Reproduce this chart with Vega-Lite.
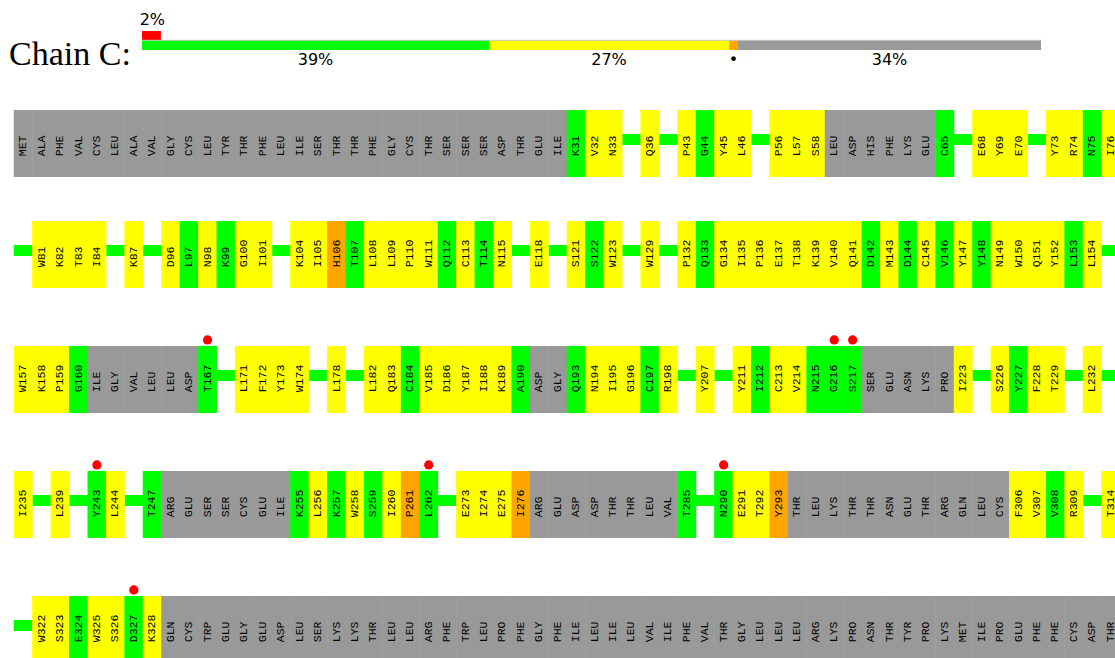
{
 "$schema": "https://vega.github.io/schema/vega-lite/v6.json",
 "padding": {"left": 9, "top": 10, "right": 0, "bottom": 0},
 "bounds": "flush",
 "spacing": 44,
 "background": "white",
 "config": {"view": {"stroke": null}},
 "resolve": {"scale": {"x": "independent", "y": "independent", "color": "independent"}},
 "datasets": {
  "res": [
   {"r":1,"s":0,"l":"MET","c":"x"},{"r":1,"s":1,"l":"ALA","c":"x"},{"r":1,"s":2,"l":"PHE","c":"x"},{"r":1,"s":3,"l":"VAL","c":"x"},{"r":1,"s":4,"l":"CYS","c":"x"},{"r":1,"s":5,"l":"LEU","c":"x"},{"r":1,"s":6,"l":"ALA","c":"x"},{"r":1,"s":7,"l":"VAL","c":"x"},{"r":1,"s":8,"l":"GLY","c":"x"},{"r":1,"s":9,"l":"CYS","c":"x"},
   {"r":1,"s":10,"l":"LEU","c":"x"},{"r":1,"s":11,"l":"TYR","c":"x"},{"r":1,"s":12,"l":"THR","c":"x"},{"r":1,"s":13,"l":"PHE","c":"x"},{"r":1,"s":14,"l":"LEU","c":"x"},{"r":1,"s":15,"l":"ILE","c":"x"},{"r":1,"s":16,"l":"SER","c":"x"},{"r":1,"s":17,"l":"THR","c":"x"},{"r":1,"s":18,"l":"THR","c":"x"},{"r":1,"s":19,"l":"PHE","c":"x"},
   {"r":1,"s":20,"l":"GLY","c":"x"},{"r":1,"s":21,"l":"CYS","c":"x"},{"r":1,"s":22,"l":"THR","c":"x"},{"r":1,"s":23,"l":"SER","c":"x"},{"r":1,"s":24,"l":"SER","c":"x"},{"r":1,"s":25,"l":"SER","c":"x"},{"r":1,"s":26,"l":"ASP","c":"x"},{"r":1,"s":27,"l":"THR","c":"x"},{"r":1,"s":28,"l":"GLU","c":"x"},{"r":1,"s":29,"l":"ILE","c":"x"},
   {"r":1,"s":30,"l":"K31","c":"g"},{"r":1,"s":31,"l":"V32","c":"y"},{"r":1,"s":32,"l":"N33","c":"y"},{"r":1,"s":33,"l":"","c":"gap"},{"r":1,"s":34,"l":"Q36","c":"y"},{"r":1,"s":35,"l":"","c":"gap"},{"r":1,"s":36,"l":"P43","c":"y"},{"r":1,"s":37,"l":"G44","c":"g"},{"r":1,"s":38,"l":"Y45","c":"y"},{"r":1,"s":39,"l":"L46","c":"y"},
   {"r":1,"s":40,"l":"","c":"gap"},{"r":1,"s":41,"l":"P56","c":"y"},{"r":1,"s":42,"l":"L57","c":"y"},{"r":1,"s":43,"l":"S58","c":"y"},{"r":1,"s":44,"l":"LEU","c":"x"},{"r":1,"s":45,"l":"ASP","c":"x"},{"r":1,"s":46,"l":"HIS","c":"x"},{"r":1,"s":47,"l":"PHE","c":"x"},{"r":1,"s":48,"l":"LYS","c":"x"},{"r":1,"s":49,"l":"GLU","c":"x"},
   {"r":1,"s":50,"l":"C65","c":"g"},{"r":1,"s":51,"l":"","c":"gap"},{"r":1,"s":52,"l":"E68","c":"y"},{"r":1,"s":53,"l":"Y69","c":"y"},{"r":1,"s":54,"l":"E70","c":"y"},{"r":1,"s":55,"l":"","c":"gap"},{"r":1,"s":56,"l":"Y73","c":"y"},{"r":1,"s":57,"l":"R74","c":"y"},{"r":1,"s":58,"l":"N75","c":"g"},{"r":1,"s":59,"l":"I76","c":"y"},

   {"r":2,"s":0,"l":"","c":"gap"},{"r":2,"s":1,"l":"W81","c":"y"},{"r":2,"s":2,"l":"K82","c":"y"},{"r":2,"s":3,"l":"T83","c":"y"},{"r":2,"s":4,"l":"I84","c":"y"},{"r":2,"s":5,"l":"","c":"gap"},{"r":2,"s":6,"l":"K87","c":"y"},{"r":2,"s":7,"l":"","c":"gap"},{"r":2,"s":8,"l":"D96","c":"y"},{"r":2,"s":9,"l":"L97","c":"g"},
   {"r":2,"s":10,"l":"N98","c":"y"},{"r":2,"s":11,"l":"K99","c":"g"},{"r":2,"s":12,"l":"G100","c":"y"},{"r":2,"s":13,"l":"I101","c":"y"},{"r":2,"s":14,"l":"","c":"gap"},{"r":2,"s":15,"l":"K104","c":"y"},{"r":2,"s":16,"l":"I105","c":"y"},{"r":2,"s":17,"l":"H106","c":"o"},{"r":2,"s":18,"l":"T107","c":"g"},{"r":2,"s":19,"l":"L108","c":"y"},
   {"r":2,"s":20,"l":"L109","c":"y"},{"r":2,"s":21,"l":"P110","c":"y"},{"r":2,"s":22,"l":"W111","c":"y"},{"r":2,"s":23,"l":"Q112","c":"g"},{"r":2,"s":24,"l":"C113","c":"y"},{"r":2,"s":25,"l":"T114","c":"g"},{"r":2,"s":26,"l":"N115","c":"y"},{"r":2,"s":27,"l":"","c":"gap"},{"r":2,"s":28,"l":"E118","c":"y"},{"r":2,"s":29,"l":"","c":"gap"},
   {"r":2,"s":30,"l":"S121","c":"y"},{"r":2,"s":31,"l":"S122","c":"g"},{"r":2,"s":32,"l":"W123","c":"y"},{"r":2,"s":33,"l":"","c":"gap"},{"r":2,"s":34,"l":"W129","c":"y"},{"r":2,"s":35,"l":"","c":"gap"},{"r":2,"s":36,"l":"P132","c":"y"},{"r":2,"s":37,"l":"Q133","c":"g"},{"r":2,"s":38,"l":"G134","c":"y"},{"r":2,"s":39,"l":"I135","c":"y"},
   {"r":2,"s":40,"l":"P136","c":"y"},{"r":2,"s":41,"l":"E137","c":"y"},{"r":2,"s":42,"l":"T138","c":"y"},{"r":2,"s":43,"l":"K139","c":"y"},{"r":2,"s":44,"l":"V140","c":"y"},{"r":2,"s":45,"l":"Q141","c":"y"},{"r":2,"s":46,"l":"D142","c":"g"},{"r":2,"s":47,"l":"M143","c":"y"},{"r":2,"s":48,"l":"D144","c":"g"},{"r":2,"s":49,"l":"C145","c":"y"},
   {"r":2,"s":50,"l":"V146","c":"g"},{"r":2,"s":51,"l":"Y147","c":"y"},{"r":2,"s":52,"l":"Y148","c":"g"},{"r":2,"s":53,"l":"N149","c":"y"},{"r":2,"s":54,"l":"W150","c":"y"},{"r":2,"s":55,"l":"Q151","c":"y"},{"r":2,"s":56,"l":"Y152","c":"y"},{"r":2,"s":57,"l":"L153","c":"g"},{"r":2,"s":58,"l":"L154","c":"y"},{"r":2,"s":59,"l":"","c":"gap"},

   {"r":3,"s":0,"l":"W157","c":"y"},{"r":3,"s":1,"l":"K158","c":"y"},{"r":3,"s":2,"l":"P159","c":"y"},{"r":3,"s":3,"l":"G160","c":"g"},{"r":3,"s":4,"l":"ILE","c":"x"},{"r":3,"s":5,"l":"GLY","c":"x"},{"r":3,"s":6,"l":"VAL","c":"x"},{"r":3,"s":7,"l":"LEU","c":"x"},{"r":3,"s":8,"l":"LEU","c":"x"},{"r":3,"s":9,"l":"ASP","c":"x"},
   {"r":3,"s":10,"l":"T167","c":"g","d":1},{"r":3,"s":11,"l":"","c":"gap"},{"r":3,"s":12,"l":"L171","c":"y"},{"r":3,"s":13,"l":"F172","c":"y"},{"r":3,"s":14,"l":"Y173","c":"y"},{"r":3,"s":15,"l":"W174","c":"y"},{"r":3,"s":16,"l":"","c":"gap"},{"r":3,"s":17,"l":"L178","c":"y"},{"r":3,"s":18,"l":"","c":"gap"},{"r":3,"s":19,"l":"L182","c":"y"},
   {"r":3,"s":20,"l":"Q183","c":"y"},{"r":3,"s":21,"l":"C184","c":"g"},{"r":3,"s":22,"l":"V185","c":"y"},{"r":3,"s":23,"l":"D186","c":"y"},{"r":3,"s":24,"l":"Y187","c":"y"},{"r":3,"s":25,"l":"I188","c":"y"},{"r":3,"s":26,"l":"K189","c":"y"},{"r":3,"s":27,"l":"A190","c":"g"},{"r":3,"s":28,"l":"ASP","c":"x"},{"r":3,"s":29,"l":"GLY","c":"x"},
   {"r":3,"s":30,"l":"Q193","c":"g"},{"r":3,"s":31,"l":"N194","c":"y"},{"r":3,"s":32,"l":"I195","c":"y"},{"r":3,"s":33,"l":"G196","c":"y"},{"r":3,"s":34,"l":"C197","c":"g"},{"r":3,"s":35,"l":"R198","c":"y"},{"r":3,"s":36,"l":"","c":"gap"},{"r":3,"s":37,"l":"Y207","c":"y"},{"r":3,"s":38,"l":"","c":"gap"},{"r":3,"s":39,"l":"Y211","c":"y"},
   {"r":3,"s":40,"l":"I212","c":"g"},{"r":3,"s":41,"l":"C213","c":"y"},{"r":3,"s":42,"l":"V214","c":"y"},{"r":3,"s":43,"l":"N215","c":"g"},{"r":3,"s":44,"l":"G216","c":"g","d":1},{"r":3,"s":45,"l":"S217","c":"g","d":1},{"r":3,"s":46,"l":"SER","c":"x"},{"r":3,"s":47,"l":"GLU","c":"x"},{"r":3,"s":48,"l":"ASN","c":"x"},{"r":3,"s":49,"l":"LYS","c":"x"},
   {"r":3,"s":50,"l":"PRO","c":"x"},{"r":3,"s":51,"l":"I223","c":"y"},{"r":3,"s":52,"l":"","c":"gap"},{"r":3,"s":53,"l":"S226","c":"y"},{"r":3,"s":54,"l":"Y227","c":"g"},{"r":3,"s":55,"l":"F228","c":"y"},{"r":3,"s":56,"l":"T229","c":"y"},{"r":3,"s":57,"l":"","c":"gap"},{"r":3,"s":58,"l":"L232","c":"y"},{"r":3,"s":59,"l":"","c":"gap"},

   {"r":4,"s":0,"l":"I235","c":"y"},{"r":4,"s":1,"l":"","c":"gap"},{"r":4,"s":2,"l":"L239","c":"y"},{"r":4,"s":3,"l":"","c":"gap"},{"r":4,"s":4,"l":"Y243","c":"g","d":1},{"r":4,"s":5,"l":"L244","c":"y"},{"r":4,"s":6,"l":"","c":"gap"},{"r":4,"s":7,"l":"T247","c":"g"},{"r":4,"s":8,"l":"ARG","c":"x"},{"r":4,"s":9,"l":"GLU","c":"x"},
   {"r":4,"s":10,"l":"SER","c":"x"},{"r":4,"s":11,"l":"SER","c":"x"},{"r":4,"s":12,"l":"CYS","c":"x"},{"r":4,"s":13,"l":"GLU","c":"x"},{"r":4,"s":14,"l":"ILE","c":"x"},{"r":4,"s":15,"l":"K255","c":"g"},{"r":4,"s":16,"l":"L256","c":"y"},{"r":4,"s":17,"l":"K257","c":"g"},{"r":4,"s":18,"l":"W258","c":"y"},{"r":4,"s":19,"l":"S259","c":"g"},
   {"r":4,"s":20,"l":"I260","c":"y"},{"r":4,"s":21,"l":"P261","c":"o"},{"r":4,"s":22,"l":"L262","c":"g","d":1},{"r":4,"s":23,"l":"","c":"gap"},{"r":4,"s":24,"l":"E273","c":"y"},{"r":4,"s":25,"l":"I274","c":"y"},{"r":4,"s":26,"l":"E275","c":"y"},{"r":4,"s":27,"l":"I276","c":"o"},{"r":4,"s":28,"l":"ARG","c":"x"},{"r":4,"s":29,"l":"GLU","c":"x"},
   {"r":4,"s":30,"l":"ASP","c":"x"},{"r":4,"s":31,"l":"ASP","c":"x"},{"r":4,"s":32,"l":"THR","c":"x"},{"r":4,"s":33,"l":"THR","c":"x"},{"r":4,"s":34,"l":"LEU","c":"x"},{"r":4,"s":35,"l":"VAL","c":"x"},{"r":4,"s":36,"l":"T285","c":"g"},{"r":4,"s":37,"l":"","c":"gap"},{"r":4,"s":38,"l":"N290","c":"g","d":1},{"r":4,"s":39,"l":"E291","c":"y"},
   {"r":4,"s":40,"l":"T292","c":"y"},{"r":4,"s":41,"l":"Y293","c":"o"},{"r":4,"s":42,"l":"THR","c":"x"},{"r":4,"s":43,"l":"LEU","c":"x"},{"r":4,"s":44,"l":"LYS","c":"x"},{"r":4,"s":45,"l":"THR","c":"x"},{"r":4,"s":46,"l":"THR","c":"x"},{"r":4,"s":47,"l":"ASN","c":"x"},{"r":4,"s":48,"l":"GLU","c":"x"},{"r":4,"s":49,"l":"THR","c":"x"},
   {"r":4,"s":50,"l":"ARG","c":"x"},{"r":4,"s":51,"l":"GLN","c":"x"},{"r":4,"s":52,"l":"LEU","c":"x"},{"r":4,"s":53,"l":"CYS","c":"x"},{"r":4,"s":54,"l":"F306","c":"y"},{"r":4,"s":55,"l":"V307","c":"y"},{"r":4,"s":56,"l":"V308","c":"g"},{"r":4,"s":57,"l":"R309","c":"y"},{"r":4,"s":58,"l":"","c":"gap"},{"r":4,"s":59,"l":"T314","c":"y"},

   {"r":5,"s":0,"l":"","c":"gap"},{"r":5,"s":1,"l":"W322","c":"y"},{"r":5,"s":2,"l":"S323","c":"y"},{"r":5,"s":3,"l":"E324","c":"g"},{"r":5,"s":4,"l":"W325","c":"y"},{"r":5,"s":5,"l":"S326","c":"y"},{"r":5,"s":6,"l":"D327","c":"g","d":1},{"r":5,"s":7,"l":"K328","c":"y"},{"r":5,"s":8,"l":"GLN","c":"x"},{"r":5,"s":9,"l":"CYS","c":"x"},
   {"r":5,"s":10,"l":"TRP","c":"x"},{"r":5,"s":11,"l":"GLU","c":"x"},{"r":5,"s":12,"l":"GLY","c":"x"},{"r":5,"s":13,"l":"GLU","c":"x"},{"r":5,"s":14,"l":"ASP","c":"x"},{"r":5,"s":15,"l":"LEU","c":"x"},{"r":5,"s":16,"l":"SER","c":"x"},{"r":5,"s":17,"l":"LYS","c":"x"},{"r":5,"s":18,"l":"LYS","c":"x"},{"r":5,"s":19,"l":"THR","c":"x"},
   {"r":5,"s":20,"l":"LEU","c":"x"},{"r":5,"s":21,"l":"LEU","c":"x"},{"r":5,"s":22,"l":"ARG","c":"x"},{"r":5,"s":23,"l":"PHE","c":"x"},{"r":5,"s":24,"l":"TRP","c":"x"},{"r":5,"s":25,"l":"LEU","c":"x"},{"r":5,"s":26,"l":"PRO","c":"x"},{"r":5,"s":27,"l":"PHE","c":"x"},{"r":5,"s":28,"l":"GLY","c":"x"},{"r":5,"s":29,"l":"PHE","c":"x"},
   {"r":5,"s":30,"l":"ILE","c":"x"},{"r":5,"s":31,"l":"LEU","c":"x"},{"r":5,"s":32,"l":"ILE","c":"x"},{"r":5,"s":33,"l":"LEU","c":"x"},{"r":5,"s":34,"l":"VAL","c":"x"},{"r":5,"s":35,"l":"ILE","c":"x"},{"r":5,"s":36,"l":"PHE","c":"x"},{"r":5,"s":37,"l":"VAL","c":"x"},{"r":5,"s":38,"l":"THR","c":"x"},{"r":5,"s":39,"l":"GLY","c":"x"},
   {"r":5,"s":40,"l":"LEU","c":"x"},{"r":5,"s":41,"l":"LEU","c":"x"},{"r":5,"s":42,"l":"LEU","c":"x"},{"r":5,"s":43,"l":"ARG","c":"x"},{"r":5,"s":44,"l":"LYS","c":"x"},{"r":5,"s":45,"l":"PRO","c":"x"},{"r":5,"s":46,"l":"ASN","c":"x"},{"r":5,"s":47,"l":"THR","c":"x"},{"r":5,"s":48,"l":"TYR","c":"x"},{"r":5,"s":49,"l":"PRO","c":"x"},
   {"r":5,"s":50,"l":"LYS","c":"x"},{"r":5,"s":51,"l":"MET","c":"x"},{"r":5,"s":52,"l":"ILE","c":"x"},{"r":5,"s":53,"l":"PRO","c":"x"},{"r":5,"s":54,"l":"GLU","c":"x"},{"r":5,"s":55,"l":"PHE","c":"x"},{"r":5,"s":56,"l":"PHE","c":"x"},{"r":5,"s":57,"l":"CYS","c":"x"},{"r":5,"s":58,"l":"ASP","c":"x"},{"r":5,"s":59,"l":"THR","c":"x"}
  ]
 },
 "vconcat": [
  {
   "width": 1106, "height": 56,
   "layer": [
    {
     "data": {"values": [{"t": "Chain C:", "m": -14.79}]},
     "mark": {"type": "text", "align": "left", "baseline": "alphabetic", "font": "Liberation Serif", "fontSize": 34, "color": "#000000"},
     "encoding": {
      "x": {"field": "m", "type": "quantitative", "scale": {"domain": [-14.794, 108.23], "nice": false, "zero": false}, "axis": null},
      "y": {"datum": 55, "type": "quantitative", "scale": {"domain": [0, 56], "reverse": true, "nice": false, "zero": false}, "axis": null},
      "text": {"field": "t"}
     }
    },
    {
     "data": {"values": [{"c": "g", "a": 0, "b": 38.6}, {"c": "y", "a": 38.6, "b": 65.3}, {"c": "o", "a": 65.3, "b": 66.3}, {"c": "x", "a": 66.3, "b": 100}]},
     "mark": {"type": "rect"},
     "encoding": {
      "x": {"field": "a", "type": "quantitative", "scale": {"domain": [-14.794, 108.23], "nice": false, "zero": false}, "axis": null},
      "x2": {"field": "b"},
      "y": {"datum": 30, "type": "quantitative", "scale": {"domain": [0, 56], "reverse": true, "nice": false, "zero": false}, "axis": null},
      "y2": {"datum": 40},
      "color": {"field": "c", "type": "nominal", "scale": {"domain": ["x", "g", "y", "o"], "range": ["#999999", "#00ff00", "#ffff00", "#ffa500"]}, "legend": null}
     }
    },
    {
     "data": {"values": [{"a": 0, "b": 2.1}]},
     "mark": {"type": "rect", "color": "#ff0000"},
     "encoding": {
      "x": {"field": "a", "type": "quantitative", "scale": {"domain": [-14.794, 108.23], "nice": false, "zero": false}, "axis": null},
      "x2": {"field": "b"},
      "y": {"datum": 21, "type": "quantitative", "scale": {"domain": [0, 56], "reverse": true, "nice": false, "zero": false}, "axis": null},
      "y2": {"datum": 30}
     }
    },
    {
     "data": {"values": [{"a": 0, "b": 100}]},
     "mark": {"type": "rule", "color": "#c8c8c8", "strokeWidth": 1},
     "encoding": {
      "x": {"field": "a", "type": "quantitative", "scale": {"domain": [-14.794, 108.23], "nice": false, "zero": false}, "axis": null},
      "x2": {"field": "b"},
      "y": {"datum": 30.3, "type": "quantitative", "scale": {"domain": [0, 56], "reverse": true, "nice": false, "zero": false}, "axis": null}
     }
    },
    {
     "data": {"values": [{"m": 19.3, "t": "39%"}, {"m": 51.95, "t": "27%"}, {"m": 65.8, "t": "•"}, {"m": 83.15, "t": "34%"}]},
     "mark": {"type": "text", "font": "DejaVu Sans", "fontSize": 16, "align": "center", "baseline": "middle", "color": "#000000"},
     "encoding": {
      "x": {"field": "m", "type": "quantitative", "scale": {"domain": [-14.794, 108.23], "nice": false, "zero": false}, "axis": null},
      "y": {"datum": 50, "type": "quantitative", "scale": {"domain": [0, 56], "reverse": true, "nice": false, "zero": false}, "axis": null},
      "text": {"field": "t"}
     }
    },
    {
     "data": {"values": [{"m": 1.15, "t": "2%"}]},
     "mark": {"type": "text", "font": "DejaVu Sans", "fontSize": 16, "align": "center", "baseline": "middle", "color": "#000000"},
     "encoding": {
      "x": {"field": "m", "type": "quantitative", "scale": {"domain": [-14.794, 108.23], "nice": false, "zero": false}, "axis": null},
      "y": {"datum": 10, "type": "quantitative", "scale": {"domain": [0, 56], "reverse": true, "nice": false, "zero": false}, "axis": null},
      "text": {"field": "t"}
     }
    }
   ]
  },
  {
   "width": 1106, "height": 67,
   "data": {"name": "res"},
   "transform": [{"filter": "datum.r == 1"}],
   "layer": [
    {"transform": [{"filter": "datum.c == 'gap'"}], "mark": {"type": "bar", "width": 18.9, "color": "#00ff00", "clip": true},
     "encoding": {"x": {"field": "s", "type": "quantitative", "scale": {"domain": [-0.5, 58.9624], "nice": false, "zero": false}, "axis": null},
      "y": {"datum": 0.478, "type": "quantitative", "scale": {"domain": [0, 1], "nice": false, "zero": false}, "axis": null}, "y2": {"datum": 0.642}}},
    {"transform": [{"filter": "datum.c != 'gap'"}], "mark": {"type": "bar", "width": 18.9, "clip": true},
     "encoding": {"x": {"field": "s", "type": "quantitative", "scale": {"domain": [-0.5, 58.9624], "nice": false, "zero": false}, "axis": null},
      "y": {"datum": 0, "type": "quantitative", "scale": {"domain": [0, 1], "nice": false, "zero": false}, "axis": null}, "y2": {"datum": 1},
      "color": {"field": "c", "type": "nominal", "scale": {"domain": ["x", "g", "y", "o"], "range": ["#999999", "#00ff00", "#ffff00", "#ffa500"]}, "legend": null}}},
    {"transform": [{"filter": "datum.c != 'gap'"}], "mark": {"type": "text", "angle": 270, "align": "left", "baseline": "middle", "font": "Liberation Mono", "fontSize": 11.5, "color": "#000000", "clip": true},
     "encoding": {"x": {"field": "s", "type": "quantitative", "scale": {"domain": [-0.5, 58.9624], "nice": false, "zero": false}, "axis": null},
      "y": {"datum": 0.31, "type": "quantitative", "scale": {"domain": [0, 1], "nice": false, "zero": false}, "axis": null}, "text": {"field": "l"}}},
    {"transform": [{"filter": "datum.d == 1"}], "mark": {"type": "circle", "size": 85, "color": "#ff0000", "opacity": 1},
     "encoding": {"x": {"field": "s", "type": "quantitative", "scale": {"domain": [-0.5, 58.9624], "nice": false, "zero": false}, "axis": null},
      "y": {"datum": 1.09, "type": "quantitative", "scale": {"domain": [0, 1], "nice": false, "zero": false}, "axis": null}}}
   ]
  },
  {
   "width": 1106, "height": 67,
   "data": {"name": "res"},
   "transform": [{"filter": "datum.r == 2"}],
   "layer": [
    {"transform": [{"filter": "datum.c == 'gap'"}], "mark": {"type": "bar", "width": 18.9, "color": "#00ff00", "clip": true},
     "encoding": {"x": {"field": "s", "type": "quantitative", "scale": {"domain": [-0.5, 58.9624], "nice": false, "zero": false}, "axis": null},
      "y": {"datum": 0.478, "type": "quantitative", "scale": {"domain": [0, 1], "nice": false, "zero": false}, "axis": null}, "y2": {"datum": 0.642}}},
    {"transform": [{"filter": "datum.c != 'gap'"}], "mark": {"type": "bar", "width": 18.9, "clip": true},
     "encoding": {"x": {"field": "s", "type": "quantitative", "scale": {"domain": [-0.5, 58.9624], "nice": false, "zero": false}, "axis": null},
      "y": {"datum": 0, "type": "quantitative", "scale": {"domain": [0, 1], "nice": false, "zero": false}, "axis": null}, "y2": {"datum": 1},
      "color": {"field": "c", "type": "nominal", "scale": {"domain": ["x", "g", "y", "o"], "range": ["#999999", "#00ff00", "#ffff00", "#ffa500"]}, "legend": null}}},
    {"transform": [{"filter": "datum.c != 'gap'"}], "mark": {"type": "text", "angle": 270, "align": "left", "baseline": "middle", "font": "Liberation Mono", "fontSize": 11.5, "color": "#000000", "clip": true},
     "encoding": {"x": {"field": "s", "type": "quantitative", "scale": {"domain": [-0.5, 58.9624], "nice": false, "zero": false}, "axis": null},
      "y": {"datum": 0.31, "type": "quantitative", "scale": {"domain": [0, 1], "nice": false, "zero": false}, "axis": null}, "text": {"field": "l"}}},
    {"transform": [{"filter": "datum.d == 1"}], "mark": {"type": "circle", "size": 85, "color": "#ff0000", "opacity": 1},
     "encoding": {"x": {"field": "s", "type": "quantitative", "scale": {"domain": [-0.5, 58.9624], "nice": false, "zero": false}, "axis": null},
      "y": {"datum": 1.09, "type": "quantitative", "scale": {"domain": [0, 1], "nice": false, "zero": false}, "axis": null}}}
   ]
  },
  {
   "width": 1106, "height": 81,
   "data": {"name": "res"},
   "transform": [{"filter": "datum.r == 3"}],
   "layer": [
    {"transform": [{"filter": "datum.c == 'gap'"}], "mark": {"type": "bar", "width": 18.9, "color": "#00ff00", "clip": true},
     "encoding": {"x": {"field": "s", "type": "quantitative", "scale": {"domain": [-0.5, 58.9624], "nice": false, "zero": false}, "axis": null},
      "y": {"datum": 0.478, "type": "quantitative", "scale": {"domain": [0, 1.209], "nice": false, "zero": false}, "axis": null}, "y2": {"datum": 0.642}}},
    {"transform": [{"filter": "datum.c != 'gap'"}], "mark": {"type": "bar", "width": 18.9, "clip": true},
     "encoding": {"x": {"field": "s", "type": "quantitative", "scale": {"domain": [-0.5, 58.9624], "nice": false, "zero": false}, "axis": null},
      "y": {"datum": 0, "type": "quantitative", "scale": {"domain": [0, 1.209], "nice": false, "zero": false}, "axis": null}, "y2": {"datum": 1},
      "color": {"field": "c", "type": "nominal", "scale": {"domain": ["x", "g", "y", "o"], "range": ["#999999", "#00ff00", "#ffff00", "#ffa500"]}, "legend": null}}},
    {"transform": [{"filter": "datum.c != 'gap'"}], "mark": {"type": "text", "angle": 270, "align": "left", "baseline": "middle", "font": "Liberation Mono", "fontSize": 11.5, "color": "#000000", "clip": true},
     "encoding": {"x": {"field": "s", "type": "quantitative", "scale": {"domain": [-0.5, 58.9624], "nice": false, "zero": false}, "axis": null},
      "y": {"datum": 0.31, "type": "quantitative", "scale": {"domain": [0, 1.209], "nice": false, "zero": false}, "axis": null}, "text": {"field": "l"}}},
    {"transform": [{"filter": "datum.d == 1"}], "mark": {"type": "circle", "size": 85, "color": "#ff0000", "opacity": 1},
     "encoding": {"x": {"field": "s", "type": "quantitative", "scale": {"domain": [-0.5, 58.9624], "nice": false, "zero": false}, "axis": null},
      "y": {"datum": 1.09, "type": "quantitative", "scale": {"domain": [0, 1.209], "nice": false, "zero": false}, "axis": null}}}
   ]
  },
  {
   "width": 1106, "height": 81,
   "data": {"name": "res"},
   "transform": [{"filter": "datum.r == 4"}],
   "layer": [
    {"transform": [{"filter": "datum.c == 'gap'"}], "mark": {"type": "bar", "width": 18.9, "color": "#00ff00", "clip": true},
     "encoding": {"x": {"field": "s", "type": "quantitative", "scale": {"domain": [-0.5, 58.9624], "nice": false, "zero": false}, "axis": null},
      "y": {"datum": 0.478, "type": "quantitative", "scale": {"domain": [0, 1.209], "nice": false, "zero": false}, "axis": null}, "y2": {"datum": 0.642}}},
    {"transform": [{"filter": "datum.c != 'gap'"}], "mark": {"type": "bar", "width": 18.9, "clip": true},
     "encoding": {"x": {"field": "s", "type": "quantitative", "scale": {"domain": [-0.5, 58.9624], "nice": false, "zero": false}, "axis": null},
      "y": {"datum": 0, "type": "quantitative", "scale": {"domain": [0, 1.209], "nice": false, "zero": false}, "axis": null}, "y2": {"datum": 1},
      "color": {"field": "c", "type": "nominal", "scale": {"domain": ["x", "g", "y", "o"], "range": ["#999999", "#00ff00", "#ffff00", "#ffa500"]}, "legend": null}}},
    {"transform": [{"filter": "datum.c != 'gap'"}], "mark": {"type": "text", "angle": 270, "align": "left", "baseline": "middle", "font": "Liberation Mono", "fontSize": 11.5, "color": "#000000", "clip": true},
     "encoding": {"x": {"field": "s", "type": "quantitative", "scale": {"domain": [-0.5, 58.9624], "nice": false, "zero": false}, "axis": null},
      "y": {"datum": 0.31, "type": "quantitative", "scale": {"domain": [0, 1.209], "nice": false, "zero": false}, "axis": null}, "text": {"field": "l"}}},
    {"transform": [{"filter": "datum.d == 1"}], "mark": {"type": "circle", "size": 85, "color": "#ff0000", "opacity": 1},
     "encoding": {"x": {"field": "s", "type": "quantitative", "scale": {"domain": [-0.5, 58.9624], "nice": false, "zero": false}, "axis": null},
      "y": {"datum": 1.09, "type": "quantitative", "scale": {"domain": [0, 1.209], "nice": false, "zero": false}, "axis": null}}}
   ]
  },
  {
   "width": 1106, "height": 76,
   "data": {"name": "res"},
   "transform": [{"filter": "datum.r == 5"}],
   "layer": [
    {"transform": [{"filter": "datum.c == 'gap'"}], "mark": {"type": "bar", "width": 18.9, "color": "#00ff00", "clip": true},
     "encoding": {"x": {"field": "s", "type": "quantitative", "scale": {"domain": [-0.5, 58.9624], "nice": false, "zero": false}, "axis": null},
      "y": {"datum": 0.478, "type": "quantitative", "scale": {"domain": [0.0746, 1.209], "nice": false, "zero": false}, "axis": null}, "y2": {"datum": 0.642}}},
    {"transform": [{"filter": "datum.c != 'gap'"}], "mark": {"type": "bar", "width": 18.9, "clip": true},
     "encoding": {"x": {"field": "s", "type": "quantitative", "scale": {"domain": [-0.5, 58.9624], "nice": false, "zero": false}, "axis": null},
      "y": {"datum": 0, "type": "quantitative", "scale": {"domain": [0.0746, 1.209], "nice": false, "zero": false}, "axis": null}, "y2": {"datum": 1},
      "color": {"field": "c", "type": "nominal", "scale": {"domain": ["x", "g", "y", "o"], "range": ["#999999", "#00ff00", "#ffff00", "#ffa500"]}, "legend": null}}},
    {"transform": [{"filter": "datum.c != 'gap'"}], "mark": {"type": "text", "angle": 270, "align": "left", "baseline": "middle", "font": "Liberation Mono", "fontSize": 11.5, "color": "#000000", "clip": true},
     "encoding": {"x": {"field": "s", "type": "quantitative", "scale": {"domain": [-0.5, 58.9624], "nice": false, "zero": false}, "axis": null},
      "y": {"datum": 0.31, "type": "quantitative", "scale": {"domain": [0.0746, 1.209], "nice": false, "zero": false}, "axis": null}, "text": {"field": "l"}}},
    {"transform": [{"filter": "datum.d == 1"}], "mark": {"type": "circle", "size": 85, "color": "#ff0000", "opacity": 1},
     "encoding": {"x": {"field": "s", "type": "quantitative", "scale": {"domain": [-0.5, 58.9624], "nice": false, "zero": false}, "axis": null},
      "y": {"datum": 1.09, "type": "quantitative", "scale": {"domain": [0.0746, 1.209], "nice": false, "zero": false}, "axis": null}}}
   ]
  }
 ]
}
